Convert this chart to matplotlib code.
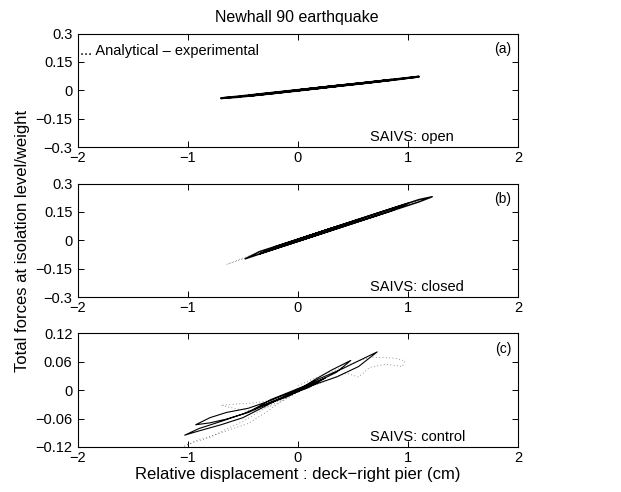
import matplotlib
matplotlib.use("Agg")
import matplotlib.pyplot as plt

plt.rcParams['font.family'] = ['Liberation Sans', 'DejaVu Sans']

# --- hysteresis loops: relative displacement (cm) vs force/weight ---
# (a) SAIVS open
a_ana_x = [0.0, 0.25, 0.55, 0.85, 1.1, 0.9, 0.6, 0.3, 0.0, -0.3, -0.55, -0.7, -0.5, -0.2,
           0.1, 0.4, 0.7, 0.85, 0.6, 0.3, 0.0, -0.3, -0.45, -0.2, 0.1, 0.4, 0.2, 0.0]
a_ana_y = [0.0, 0.017, 0.036, 0.056, 0.072, 0.057, 0.037, 0.018, -0.002, -0.021, -0.036, -0.042, -0.030, -0.011,
           0.008, 0.027, 0.045, 0.055, 0.038, 0.019, 0.0, -0.019, -0.029, -0.014, 0.007, 0.026, 0.012, 0.0]
a_exp_x = [0.0, 0.3, 0.6, 0.85, 1.05, 0.8, 0.5, 0.2, -0.1, -0.4, -0.68, -0.4, -0.1, 0.2, 0.0]
a_exp_y = [0.001, 0.020, 0.039, 0.058, 0.068, 0.051, 0.031, 0.012, -0.007, -0.026, -0.043, -0.024, -0.005, 0.014, 0.0]

# (b) SAIVS closed
b_ana_x = [0.0, 0.3, 0.6, 0.9, 1.1, 1.22, 1.1, 0.8, 0.5, 0.2, -0.1, -0.3, -0.48, -0.35, -0.1,
           0.2, 0.5, 0.8, 1.0, 0.85, 0.55, 0.25, -0.05, -0.25, -0.35, -0.2, 0.05, 0.3, 0.55,
           0.4, 0.15, -0.1, -0.2, 0.0]
b_ana_y = [0.004, 0.063, 0.120, 0.177, 0.215, 0.230, 0.203, 0.146, 0.089, 0.032, -0.025, -0.063, -0.098, -0.060, -0.013,
           0.044, 0.101, 0.158, 0.195, 0.156, 0.099, 0.042, -0.015, -0.053, -0.072, -0.033, 0.015, 0.063, 0.108,
           0.072, 0.024, -0.024, -0.040, 0.0]
b_exp_x = [0.0, 0.4, 0.8, 1.2, 0.9, 0.5, 0.1, -0.3, -0.5, -0.65, -0.45, -0.2, 0.2, 0.6, 0.3, 0.0]
b_exp_y = [0.002, 0.080, 0.156, 0.228, 0.168, 0.092, 0.016, -0.060, -0.098, -0.128, -0.084, -0.036, 0.040, 0.116, 0.054, 0.0]

# (c) SAIVS control
c_ana_x = [0.0, 0.15, 0.3, 0.48, 0.35, 0.15, -0.1, -0.3, -0.45, -0.65, -0.8, -0.93,
           -0.8, -0.65, -0.45, -0.25, 0.0, 0.2, 0.4, 0.55, 0.72, 0.55, 0.35, 0.1,
           -0.1, -0.3, -0.5, -0.7, -0.9, -1.03, -0.9, -0.7, -0.5, -0.3, -0.1, 0.1,
           0.25, 0.1, -0.1, -0.25, -0.4, -0.25, -0.1, 0.05, 0.15, 0.0]
c_ana_y = [0.0, 0.022, 0.042, 0.063, 0.038, 0.015, -0.014, -0.031, -0.047, -0.061, -0.069, -0.073,
           -0.058, -0.047, -0.038, -0.022, 0.002, 0.025, 0.045, 0.062, 0.081, 0.050, 0.028, 0.008,
           -0.012, -0.030, -0.050, -0.066, -0.081, -0.095, -0.086, -0.073, -0.058, -0.034, -0.010, 0.012,
           0.026, 0.006, -0.012, -0.026, -0.040, -0.020, -0.006, 0.008, 0.016, 0.0]
c_exp_x = [0.0, 0.2, 0.4, 0.55, 0.66, 0.8, 0.9, 0.97, 0.95, 0.8, 0.65, 0.55, 0.44, 0.3, 0.1,
           -0.1, -0.3, -0.5, -0.65, -0.8, -0.95, -1.03, -0.9, -0.75, -0.6, -0.45,
           -0.3, -0.15, 0.0, 0.15, 0.0, -0.2, -0.4, -0.55, -0.7, -0.55, -0.4, -0.2, 0.0]
c_exp_y = [0.010, 0.030, 0.048, 0.062, 0.070, 0.069, 0.067, 0.062, 0.050, 0.055, 0.048, 0.028, 0.036, 0.024, 0.006,
           -0.014, -0.038, -0.066, -0.082, -0.100, -0.110, -0.118, -0.104, -0.094, -0.082, -0.070,
           -0.048, -0.024, -0.004, 0.014, 0.004, -0.020, -0.027, -0.029, -0.032, -0.040, -0.044, -0.030, -0.002]

panels = [
    (a_ana_x, a_ana_y, a_exp_x, a_exp_y),
    (b_ana_x, b_ana_y, b_exp_x, b_exp_y),
    (c_ana_x, c_ana_y, c_exp_x, c_exp_y),
]
panel_tags = ['(a)', '(b)', '(c)']
saivs_labels = ['SAIVS: open', 'SAIVS: closed', 'SAIVS: control']
line_widths = [1.5, 1.1, 0.8]
y_limits = [0.3, 0.3, 0.12]
y_ticks = [[-0.3, -0.15, 0, 0.15, 0.3],
           [-0.3, -0.15, 0, 0.15, 0.3],
           [-0.12, -0.06, 0, 0.06, 0.12]]
y_ticklabels = [['\u22120.3', '\u22120.15', '0', '0.15', '0.3'],
                ['\u22120.3', '\u22120.15', '0', '0.15', '0.3'],
                ['\u22120.12', '\u22120.06', '0', '0.06', '0.12']]
x_ticks = [-2, -1, 0, 1, 2]
x_ticklabels = ['\u22122', '\u22121', '0', '1', '2']

fig = plt.figure(figsize=(6.21, 4.92), dpi=100)
left, width, height = 0.1256, 0.7085, 0.2307
bottoms = [0.7012, 0.3963, 0.0915]

axes = []
for i, (ax_, ay_, ex_, ey_) in enumerate(panels):
    ax = fig.add_axes([left, bottoms[i], width, height])
    ax.plot(ex_, ey_, color='0.45', lw=0.6, linestyle=(0, (1, 3)))
    ax.plot(ax_, ay_, color='black', lw=line_widths[i])
    ax.set_xlim(-2, 2)
    ax.set_ylim(-y_limits[i], y_limits[i])
    ax.set_xticks(x_ticks)
    ax.set_xticklabels(x_ticklabels)
    ax.set_yticks(y_ticks[i])
    ax.set_yticklabels(y_ticklabels[i])
    ax.tick_params(direction='in', top=True, right=True, length=4, width=0.7,
                   labelsize=10.5)
    ax.tick_params(axis='x', pad=3)
    ax.tick_params(axis='y', pad=4)
    for sp in ax.spines.values():
        sp.set_linewidth(0.8)
    ax.text(0.966, 0.86, panel_tags[i], transform=ax.transAxes,
            ha='center', va='center', fontsize=10)
    ax.text(0.664, 0.085, saivs_labels[i], transform=ax.transAxes,
            ha='left', va='center', fontsize=10.5)
    axes.append(ax)

axes[0].text(0.004, 0.85, '... Analytical \u2013 experimental', transform=axes[0].transAxes,
             ha='left', va='center', fontsize=10.5)
axes[2].set_xlabel('Relative displacement : deck\u2212right pier (cm)', fontsize=12, labelpad=1)

fig.text(0.478, 0.965, 'Newhall 90 earthquake', ha='center', va='center', fontsize=11.5)
fig.text(0.036, 0.51, 'Total forces at isolation level/weight', rotation=90,
         ha='center', va='center', fontsize=12)

fig.savefig('out.png', dpi=100)
